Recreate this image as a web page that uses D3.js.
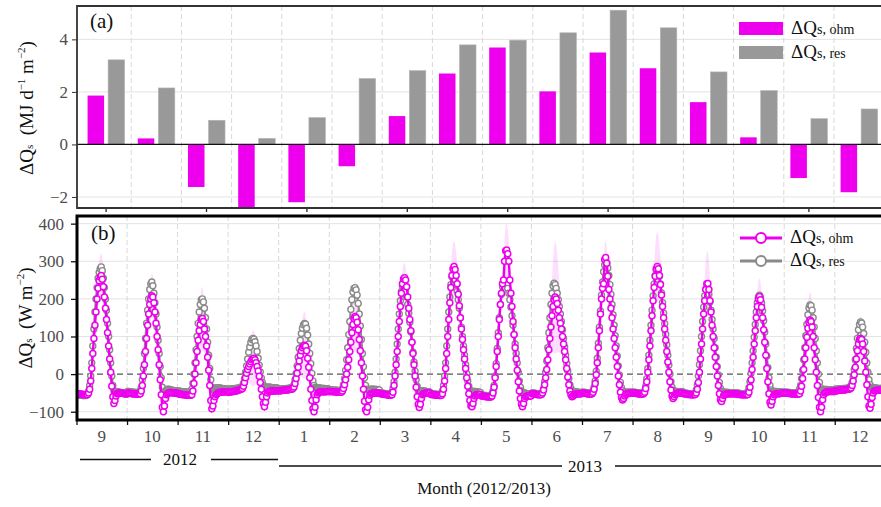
<!DOCTYPE html>
<html><head><meta charset="utf-8">
<script src="https://cdn.jsdelivr.net/npm/d3@7"></script>
<style>
body{margin:0;background:#fff;}
svg{display:block;}
svg text{font-family:"Liberation Serif","Times New Roman","DejaVu Serif",serif !important;}
</style></head><body>
<svg id="c" width="881" height="507"></svg>
<script>
// ---------- DATA ----------
const months = ["9","10","11","12","1","2","3","4","5","6","7","8","9","10","11","12"];
// panel (a): monthly mean daily totals (MJ d-1 m-2)
const monthlyOhm = [1.86,0.23,-1.62,-2.41,-2.2,-0.83,1.08,2.7,3.69,2.02,3.5,2.9,1.61,0.27,-1.28,-1.82];
const monthlyRes = [3.22,2.15,0.92,0.23,1.02,2.51,2.81,3.79,3.97,4.25,5.11,4.44,2.76,2.05,0.98,1.35];
const topTicks = [-2,0,2,4];
const bottomTicks = [-100,0,100,200,300,400];
// panel (b): half-hourly mean diurnal cycles per month (W m-2)
const diurnalOhm = [
[-52,-52,-53,-53,-53,-54,-54,-54,-55,-55,-54,-50,-40,-18,15,55,95,130,165,200,228,248,258,262,252,232,205,175,145,110,75,40,5,-32,-60,-78,-70,-58,-52,-50,-50,-50,-51,-51,-51,-52,-52,-52],
[-50,-50,-51,-51,-52,-52,-52,-53,-53,-53,-53,-53,-52,-45,-30,-5,25,60,95,130,160,185,200,208,205,190,165,135,100,65,25,-15,-55,-88,-100,-85,-65,-55,-52,-50,-49,-49,-49,-50,-50,-50,-50,-50],
[-52,-53,-53,-54,-54,-55,-55,-55,-56,-56,-56,-56,-56,-55,-45,-25,0,30,60,90,115,132,145,148,140,120,100,75,45,10,-30,-70,-92,-85,-70,-60,-55,-52,-50,-49,-48,-48,-48,-47,-47,-47,-47,-47],
[-48,-48,-47,-47,-46,-46,-45,-45,-44,-43,-42,-41,-40,-38,-32,-22,-10,2,12,20,27,33,38,41,42,38,30,20,8,-6,-22,-40,-60,-78,-87,-75,-60,-50,-46,-45,-45,-45,-45,-45,-45,-44,-44,-44],
[-44,-44,-44,-43,-43,-43,-42,-42,-42,-41,-41,-40,-40,-38,-34,-25,-12,2,18,35,50,62,70,75,77,74,62,42,18,-10,-40,-70,-92,-100,-88,-68,-55,-50,-48,-47,-47,-47,-47,-47,-47,-46,-46,-46],
[-46,-46,-46,-47,-47,-47,-47,-48,-48,-48,-48,-48,-45,-38,-28,-15,0,18,38,60,85,110,132,148,153,150,138,118,92,62,30,-5,-40,-72,-95,-100,-88,-68,-56,-52,-51,-51,-51,-50,-50,-50,-50,-50],
[-52,-52,-53,-53,-54,-54,-55,-55,-56,-56,-56,-55,-48,-30,-5,25,60,100,140,180,215,240,253,256,250,232,205,175,145,115,85,55,25,-5,-35,-60,-80,-89,-80,-65,-55,-52,-51,-50,-50,-50,-50,-50],
[-54,-54,-55,-55,-55,-56,-56,-56,-57,-57,-56,-52,-40,-18,15,55,100,145,190,230,262,280,286,278,262,240,212,182,150,120,92,65,40,15,-10,-32,-52,-70,-84,-87,-78,-65,-58,-55,-54,-54,-54,-54],
[-58,-58,-59,-59,-60,-60,-60,-61,-61,-61,-58,-50,-35,-10,20,60,100,145,185,215,240,250,300,328,330,320,300,250,215,180,140,105,70,40,10,-20,-45,-65,-80,-87,-78,-65,-60,-58,-58,-58,-58,-58],
[-52,-52,-53,-53,-54,-54,-55,-55,-55,-54,-50,-42,-28,-10,12,38,65,95,125,155,180,198,205,200,188,170,150,135,120,100,80,60,38,15,-8,-28,-45,-55,-60,-58,-55,-54,-53,-53,-52,-52,-52,-52],
[-50,-50,-51,-51,-52,-52,-53,-53,-53,-52,-48,-40,-25,-2,30,70,115,160,200,228,240,305,310,295,260,225,200,175,150,120,95,70,45,20,-5,-28,-48,-62,-69,-65,-58,-54,-52,-52,-51,-51,-51,-51],
[-50,-50,-51,-51,-52,-52,-53,-53,-53,-53,-52,-48,-38,-20,5,38,75,115,155,195,230,260,280,286,280,262,238,210,180,150,120,90,60,32,5,-20,-42,-58,-65,-60,-55,-52,-51,-50,-50,-50,-50,-50],
[-52,-52,-53,-53,-54,-54,-54,-55,-55,-55,-55,-54,-50,-40,-22,5,40,80,120,160,195,225,240,241,225,195,165,130,100,70,45,20,-5,-30,-52,-68,-73,-65,-57,-54,-53,-53,-52,-52,-52,-52,-52,-52],
[-52,-52,-53,-53,-54,-54,-54,-55,-55,-55,-55,-55,-55,-54,-48,-35,-15,12,45,80,115,150,180,200,206,198,178,150,118,85,50,15,-20,-52,-75,-82,-72,-60,-55,-53,-52,-52,-52,-52,-51,-51,-51,-51],
[-50,-50,-51,-51,-51,-52,-52,-52,-53,-53,-53,-53,-53,-53,-52,-45,-32,-12,12,40,70,98,122,138,144,140,125,100,70,38,5,-30,-62,-88,-100,-88,-68,-55,-50,-48,-47,-47,-46,-46,-46,-46,-46,-46],
[-44,-44,-44,-43,-43,-43,-42,-42,-42,-42,-41,-41,-40,-40,-39,-37,-30,-18,-2,18,40,62,80,92,95,92,80,60,35,5,-28,-60,-85,-91,-80,-62,-50,-45,-44,-43,-43,-43,-43,-43,-43,-43,-43,-43]
];
const diurnalRes = [
[-55,-55,-56,-56,-56,-57,-57,-57,-57,-56,-52,-45,-30,-5,30,75,120,165,200,230,255,270,280,285,275,255,230,200,170,135,100,65,30,-5,-30,-45,-50,-48,-46,-47,-48,-49,-50,-50,-51,-52,-53,-54],
[-46,-46,-47,-47,-48,-48,-48,-49,-49,-49,-49,-48,-45,-35,-15,15,55,95,135,170,200,225,240,245,235,215,190,160,125,90,55,20,-10,-35,-48,-50,-45,-42,-40,-40,-41,-42,-43,-43,-44,-44,-45,-45],
[-45,-45,-46,-46,-47,-47,-47,-48,-48,-48,-48,-47,-45,-40,-25,0,30,65,100,135,165,185,198,200,192,175,150,120,85,50,15,-15,-35,-42,-40,-38,-37,-36,-36,-37,-37,-38,-38,-39,-39,-40,-40,-40],
[-40,-40,-40,-39,-39,-39,-38,-38,-38,-37,-37,-36,-35,-32,-25,-12,5,22,40,58,72,84,92,95,93,86,75,60,42,24,6,-10,-22,-30,-34,-35,-35,-35,-35,-35,-35,-36,-36,-36,-37,-37,-37,-38],
[-40,-40,-40,-40,-39,-39,-39,-38,-38,-38,-37,-37,-36,-34,-28,-15,2,22,45,68,90,108,122,131,135,133,122,104,80,55,28,2,-18,-30,-35,-37,-37,-37,-37,-37,-38,-38,-38,-38,-39,-39,-39,-40],
[-42,-42,-42,-42,-43,-43,-43,-43,-44,-44,-44,-43,-38,-28,-12,10,38,70,105,140,172,198,218,228,230,224,210,188,160,128,92,55,20,-10,-30,-40,-42,-42,-41,-40,-40,-40,-40,-41,-41,-41,-42,-42],
[-50,-50,-51,-51,-52,-52,-53,-53,-53,-53,-52,-48,-38,-20,5,40,80,120,160,195,220,233,235,230,220,205,185,162,138,112,85,58,32,8,-15,-32,-42,-45,-45,-44,-44,-45,-45,-46,-46,-47,-47,-48],
[-52,-52,-53,-53,-53,-54,-54,-54,-54,-53,-50,-45,-30,-5,30,75,120,165,205,238,258,265,262,252,238,220,198,175,150,125,100,75,50,25,2,-18,-32,-42,-46,-47,-46,-46,-46,-47,-47,-48,-48,-49],
[-56,-56,-57,-57,-57,-58,-58,-58,-58,-57,-53,-45,-30,-5,28,68,110,150,185,212,232,245,248,245,238,228,215,198,178,155,130,105,80,55,30,5,-18,-35,-45,-50,-50,-50,-51,-52,-53,-54,-55,-56],
[-50,-50,-51,-51,-52,-52,-52,-53,-53,-52,-48,-38,-20,5,35,70,110,150,185,215,235,242,238,228,215,198,180,160,140,118,95,72,50,28,8,-12,-28,-38,-44,-46,-46,-47,-47,-48,-48,-49,-49,-50],
[-48,-48,-49,-49,-50,-50,-51,-51,-51,-50,-45,-35,-18,8,42,82,125,168,210,245,272,290,298,295,282,262,238,212,185,158,130,102,75,48,22,-2,-22,-36,-44,-48,-48,-48,-48,-48,-48,-48,-48,-48],
[-48,-48,-49,-49,-50,-50,-50,-51,-51,-51,-49,-44,-32,-12,15,50,90,130,170,208,240,262,276,281,275,260,240,216,190,162,134,106,78,50,24,0,-20,-35,-43,-46,-46,-46,-46,-47,-47,-47,-47,-47],
[-50,-50,-51,-51,-52,-52,-52,-53,-53,-53,-52,-50,-42,-28,-5,25,62,100,140,178,208,225,230,225,212,192,170,145,120,95,70,45,20,-2,-22,-38,-46,-48,-48,-48,-48,-49,-49,-49,-50,-50,-50,-50],
[-50,-50,-50,-51,-51,-51,-52,-52,-52,-52,-52,-52,-50,-46,-36,-20,2,30,62,98,132,165,190,205,210,205,190,168,142,112,80,48,18,-10,-30,-42,-46,-46,-46,-46,-46,-47,-47,-47,-48,-48,-48,-48],
[-48,-48,-48,-49,-49,-49,-50,-50,-50,-50,-50,-50,-49,-46,-40,-30,-12,10,38,70,102,132,158,176,184,182,170,150,125,95,62,30,0,-22,-36,-42,-42,-41,-41,-41,-41,-42,-42,-42,-42,-43,-43,-43],
[-40,-40,-40,-40,-39,-39,-39,-39,-38,-38,-38,-38,-37,-36,-34,-30,-22,-8,12,38,68,95,118,132,139,136,125,108,85,58,30,5,-15,-28,-35,-37,-37,-37,-37,-37,-38,-38,-38,-38,-38,-38,-38,-38]
];
// peak spread of the ohm uncertainty envelope per month (W m-2)
const ohmSpread = [60,60,85,75,90,95,40,70,70,150,45,93,85,50,75,60];

// ---------- STYLE ----------
const PINK = "#EE00EE", GREYBAR = "#999999", GREYLINE = "#8a8a8a";
const svg = d3.select("#c");
const defs = svg.append("defs");

// ================= PANEL (a) =================
const A = {l:77, r:881, t:6, b:208};
defs.append("clipPath").attr("id","clipA").append("rect")
  .attr("x",A.l).attr("y",A.t).attr("width",A.r-A.l).attr("height",A.b-A.t);
const xTop = d3.scaleBand().domain(d3.range(months.length)).range([81, 884.2]);
const xSub = d3.scaleBand().domain(["ohm","res"]).range([0, xTop.bandwidth()]).paddingInner(0.195).paddingOuter(0.32);
const yTop = d3.scaleLinear().domain([-2.42, 5.27]).range([A.b, A.t]);

const gA = svg.append("g");
const gridA = gA.append("g").attr("clip-path","url(#clipA)");
gridA.selectAll("line.h").data(topTicks.filter(d=>d!==0)).join("line")
  .attr("x1",A.l).attr("x2",A.r).attr("y1",d=>yTop(d)).attr("y2",d=>yTop(d))
  .attr("stroke","#e4e4e4").attr("stroke-width",1);
gridA.selectAll("line.v").data(d3.range(1,months.length)).join("line")
  .attr("x1",d=>xTop.range()[0]+d*xTop.step()).attr("x2",d=>xTop.range()[0]+d*xTop.step())
  .attr("y1",A.t).attr("y2",A.b)
  .attr("stroke","#d8d8d8").attr("stroke-width",1).attr("stroke-dasharray","5,3");

const barsA = gA.append("g").attr("clip-path","url(#clipA)");
barsA.selectAll("rect.ohm").data(monthlyOhm).join("rect")
  .attr("x",(d,i)=>xTop(i)+xSub("ohm")).attr("width",xSub.bandwidth())
  .attr("y",d=>Math.min(yTop(d),yTop(0))).attr("height",d=>Math.abs(yTop(d)-yTop(0)))
  .attr("fill",PINK);
barsA.selectAll("rect.res").data(monthlyRes).join("rect")
  .attr("x",(d,i)=>xTop(i)+xSub("res")).attr("width",xSub.bandwidth())
  .attr("y",d=>Math.min(yTop(d),yTop(0))).attr("height",d=>Math.abs(yTop(d)-yTop(0)))
  .attr("fill",GREYBAR).attr("stroke","#b5b5b5").attr("stroke-width",0.6);
gA.append("line").attr("x1",A.l).attr("x2",A.r).attr("y1",yTop(0)).attr("y2",yTop(0))
  .attr("stroke","#111").attr("stroke-width",1.3);

// axes (a)
const axA = gA.append("g").attr("transform",`translate(${A.l},0)`)
  .call(d3.axisLeft(yTop).tickValues(topTicks).tickSize(5).tickPadding(4).tickSizeOuter(0))
  .attr("font-family",null);
axA.select(".domain").remove();
axA.selectAll("line").attr("stroke","#333");
axA.selectAll("text").attr("font-size",17).attr("fill","#4d4d4d");
const axAb = gA.append("g").attr("transform",`translate(0,${A.b})`)
  .call(d3.axisBottom(xTop).tickValues(d3.range(0,months.length,2)).tickSize(4).tickFormat(""));
axAb.select(".domain").remove();
axAb.selectAll("line").attr("stroke","#222").attr("stroke-width",1.3);
// frame (a)
gA.append("path").attr("d",`M${A.r},${A.t}H${A.l}V${A.b}H${A.r}`)
  .attr("fill","none").attr("stroke","#333").attr("stroke-width",1.8);

gA.append("text").attr("x",90).attr("y",28).attr("font-size",21).attr("fill","#111").text("(a)");

// legend (a)
const legA = gA.append("g");
[["ohm",PINK,22],["res",GREYBAR,46]].forEach(([k,c,y])=>{
  legA.append("rect").attr("x",739).attr("y",y).attr("width",44).attr("height",13).attr("fill",c);
  const t = legA.append("text").attr("x",791).attr("y",y+11.5).attr("fill","#111");
  t.append("tspan").attr("font-size",19).text("ΔQ");
  t.append("tspan").attr("font-size",14).text("s, "+k);
});

// y title (a)
const tA = gA.append("text").attr("transform","translate(33,108) rotate(-90)")
  .attr("text-anchor","middle").attr("font-size",19).attr("fill","#111");
tA.append("tspan").text("ΔQ");
tA.append("tspan").attr("font-size",11).text("s");
tA.append("tspan").text("\u00a0\u00a0(MJ d");
tA.append("tspan").attr("font-size",11).attr("dy",-8).text("−1");
tA.append("tspan").attr("dy",8).text(" m");
tA.append("tspan").attr("font-size",11).attr("dy",-8).text("−2");
tA.append("tspan").attr("dy",8).text(")");

// ================= PANEL (b) =================
const B = {l:77, r:881, t:216, b:420};
defs.append("clipPath").attr("id","clipB").append("rect")
  .attr("x",B.l).attr("y",B.t).attr("width",B.r-B.l).attr("height",B.b-B.t);
const xBot = d3.scaleLinear().domain([0, months.length]).range([76.5, 885.3]);
const yBot = d3.scaleLinear().domain([-122, 423]).range([B.b, B.t-1]);

const gB = svg.append("g");
const gridB = gB.append("g").attr("clip-path","url(#clipB)");
gridB.selectAll("line.h").data(bottomTicks.filter(d=>d!==0)).join("line")
  .attr("x1",B.l).attr("x2",B.r).attr("y1",d=>yBot(d)).attr("y2",d=>yBot(d))
  .attr("stroke","#e4e4e4").attr("stroke-width",1);
gridB.selectAll("line.v").data(d3.range(1,months.length)).join("line")
  .attr("x1",d=>xBot(d)).attr("x2",d=>xBot(d)).attr("y1",B.t).attr("y2",B.b)
  .attr("stroke","#d8d8d8").attr("stroke-width",1).attr("stroke-dasharray","5,3");
gridB.append("line").attr("x1",B.l).attr("x2",B.r).attr("y1",yBot(0)).attr("y2",yBot(0))
  .attr("stroke","#555").attr("stroke-width",1.1).attr("stroke-dasharray","6,4");

// flatten series
function flat(arr){
  const out=[];
  arr.forEach((vals,m)=>vals.forEach((v,i)=>out.push({t:m+(i+0.5)/vals.length, v, m})));
  return out;
}
const ptsOhm = flat(diurnalOhm), ptsRes = flat(diurnalRes);
const monthMax = diurnalOhm.map(a=>d3.max(a));
const plotB = gB.append("g").attr("clip-path","url(#clipB)");

// uncertainty envelope for ohm
const w = d => Math.max(0,(d.v - diurnalOhm[d.m][0])/(monthMax[d.m]-diurnalOhm[d.m][0]));
plotB.append("path").datum(ptsOhm)
  .attr("d", d3.area().x(d=>xBot(d.t)).y0(d=>yBot(d.v - ohmSpread[d.m]*w(d)*w(d)))
    .y1(d=>yBot(d.v + ohmSpread[d.m]*w(d)*w(d))).curve(d3.curveLinear))
  .attr("fill",PINK).attr("opacity",0.13);

const line = d3.line().x(d=>xBot(d.t)).y(d=>yBot(d.v));
plotB.append("path").datum(ptsRes).attr("d",line).attr("fill","none")
  .attr("stroke",GREYLINE).attr("stroke-width",2.2);
plotB.selectAll("circle.res").data(ptsRes).join("circle")
  .attr("cx",d=>xBot(d.t)).attr("cy",d=>yBot(d.v)).attr("r",3)
  .attr("fill","#fff").attr("stroke",GREYLINE).attr("stroke-width",1.4);
plotB.append("path").datum(ptsOhm).attr("d",line).attr("fill","none")
  .attr("stroke",PINK).attr("stroke-width",2.4);
plotB.selectAll("circle.ohm").data(ptsOhm).join("circle")
  .attr("cx",d=>xBot(d.t)).attr("cy",d=>yBot(d.v)).attr("r",3)
  .attr("fill","#fff").attr("stroke",PINK).attr("stroke-width",1.5);

// axes (b)
const axB = gB.append("g").attr("transform",`translate(${B.l},0)`)
  .call(d3.axisLeft(yBot).tickValues(bottomTicks).tickSize(6).tickPadding(7).tickSizeOuter(0))
  .attr("font-family",null);
axB.select(".domain").remove();
axB.selectAll("line").attr("stroke","#111").attr("stroke-width",1.3);
axB.selectAll("text").attr("font-size",17).attr("fill","#4d4d4d");
const axBx = gB.append("g").attr("transform",`translate(0,${B.b})`)
  .call(d3.axisBottom(xBot).tickValues(d3.range(0,months.length+1)).tickSize(5).tickFormat(""));
axBx.select(".domain").remove();
axBx.selectAll("line").attr("stroke","#111").attr("stroke-width",1.3);
gB.selectAll("text.mon").data(months).join("text")
  .attr("x",(d,i)=>xBot(i+0.5)).attr("y",442).attr("text-anchor","middle")
  .attr("font-size",17).attr("fill","#4d4d4d").text(d=>d);
// frame (b)
gB.append("path").attr("d",`M${B.r},${B.t}H${B.l}V${B.b}H${B.r}`)
  .attr("fill","none").attr("stroke","#000").attr("stroke-width",3);

gB.append("text").attr("x",91).attr("y",240).attr("font-size",21).attr("fill","#111").text("(b)");

// legend (b)
const legB = gB.append("g");
[["ohm",PINK,238],["res",GREYLINE,261]].forEach(([k,c,y])=>{
  legB.append("line").attr("x1",740).attr("x2",782).attr("y1",y).attr("y2",y)
    .attr("stroke",c).attr("stroke-width",3);
  legB.append("circle").attr("cx",761).attr("cy",y).attr("r",5)
    .attr("fill","#fff").attr("stroke",c).attr("stroke-width",2);
  const t = legB.append("text").attr("x",790).attr("y",y+5).attr("fill","#111");
  t.append("tspan").attr("font-size",19).text("ΔQ");
  t.append("tspan").attr("font-size",14).text("s, "+k);
});

// y title (b)
const tB = gB.append("text").attr("transform","translate(32,318) rotate(-90)")
  .attr("text-anchor","middle").attr("font-size",19).attr("fill","#111");
tB.append("tspan").text("ΔQ");
tB.append("tspan").attr("font-size",11).text("s");
tB.append("tspan").text("\u00a0\u00a0(W m");
tB.append("tspan").attr("font-size",11).attr("dy",-8).text("−2");
tB.append("tspan").attr("dy",8).text(")");

// year annotations
const yr = svg.append("g").attr("stroke","#111").attr("stroke-width",1.5);
yr.append("line").attr("x1",80).attr("x2",151).attr("y1",459.5).attr("y2",459.5);
yr.append("line").attr("x1",211).attr("x2",278).attr("y1",459.5).attr("y2",459.5);
yr.append("line").attr("x1",279).attr("x2",562).attr("y1",466).attr("y2",466);
yr.append("line").attr("x1",615).attr("x2",881).attr("y1",466).attr("y2",466);
svg.append("text").attr("x",180).attr("y",465).attr("text-anchor","middle").attr("font-size",17).attr("fill","#111").text("2012");
svg.append("text").attr("x",585).attr("y",472).attr("text-anchor","middle").attr("font-size",17).attr("fill","#111").text("2013");
svg.append("text").attr("x",484).attr("y",494).attr("text-anchor","middle").attr("font-size",17).attr("fill","#111").text("Month (2012/2013)");
</script></body></html>
